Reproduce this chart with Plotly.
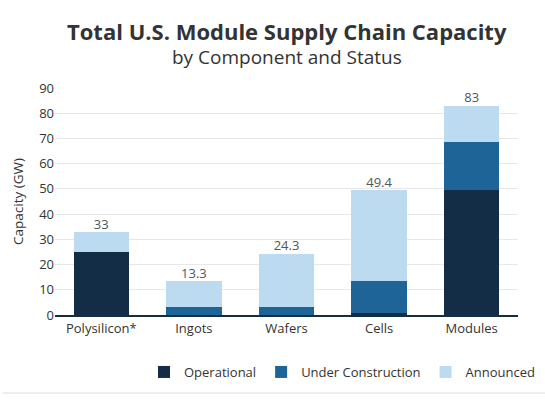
import plotly.graph_objects as go

categories = ["Polysilicon*", "Ingots", "Wafers", "Cells", "Modules"]
operational = [24.8, 0, 0, 0.9, 49.7]
under_construction = [0, 3.3, 3.3, 12.7, 19.0]
announced = [8.2, 10.0, 21.0, 35.8, 14.3]
total_labels = ["33", "13.3", "24.3", "49.4", "83"]
y_ticks = [0, 10, 20, 30, 40, 50, 60, 70, 80, 90]

series = [
    ("Operational", operational, "#132d46"),
    ("Under Construction", under_construction, "#1f6496"),
    ("Announced", announced, "#bcdbf0"),
]

FONT = "Open Sans"
TXT = "#333333"

W, H = 545, 399
ML, MR, MT, MB = 55, 27, 88, 84
plot_h = H - MT - MB
plot_w = W - ML - MR


def ypix(py):
    return (H - MB - py) / plot_h


def xpix(px):
    return (px - ML) / plot_w


fig = go.Figure()
for name, vals, col in series:
    fig.add_trace(go.Bar(x=categories, y=vals, name=name, marker=dict(color=col, line=dict(width=0))))

totals = [a + b + c for a, b, c in zip(operational, under_construction, announced)]
fig.add_trace(go.Scatter(x=categories, y=totals, mode="text", text=total_labels,
                         textposition="top center", textfont=dict(family=FONT, size=13, color="#555555"),
                         showlegend=False, cliponaxis=False, hoverinfo="skip"))

fig.update_layout(
    width=W, height=H,
    barmode="stack", bargap=0.4,
    plot_bgcolor="white", paper_bgcolor="white",
    margin=dict(l=ML, r=MR, t=MT, b=MB, autoexpand=False),
    font=dict(family=FONT, color=TXT, size=13),
    showlegend=True,
    legend=dict(orientation="h", x=xpix(540), xanchor="right", y=ypix(357), yanchor="top",
                font=dict(family=FONT, size=13, color=TXT), traceorder="normal",
                itemwidth=30, tracegroupgap=0),
    xaxis=dict(showline=True, linecolor="#132d46", linewidth=2, showgrid=False, ticks="",
               tickfont=dict(family=FONT, size=13, color=TXT)),
    yaxis=dict(range=[0, 90], tickvals=y_ticks, showgrid=True, gridcolor="#e8e8e8", gridwidth=1,
               zeroline=False, ticks="", tickfont=dict(family=FONT, size=13, color=TXT),
               title=dict(text="Capacity (GW)", font=dict(family=FONT, size=13.5, color=TXT), standoff=12)),
    annotations=[
        dict(text="<b>Total U.S. Module Supply Chain Capacity</b>", x=0.5, y=ypix(31), xref="paper",
             yref="paper", yanchor="middle", showarrow=False, font=dict(family=FONT, size=22, color=TXT)),
        dict(text="by Component and Status", x=0.5, y=ypix(57), xref="paper", yref="paper",
             yanchor="middle", showarrow=False, font=dict(family=FONT, size=19, color=TXT)),
    ],
    shapes=[dict(type="line", xref="paper", yref="paper", x0=xpix(3), x1=xpix(545),
                 y0=ypix(393), y1=ypix(393), line=dict(color="#dddddd", width=1))],
)

fig.write_html("out.html", config={"displayModeBar": False})

# remove the default page margin so the figure sits at the window's top-left corner
with open("out.html", "r", encoding="utf-8") as f:
    html = f.read()
html = html.replace("<body>", '<body style="margin:0;padding:0;">', 1)
with open("out.html", "w", encoding="utf-8") as f:
    f.write(html)
